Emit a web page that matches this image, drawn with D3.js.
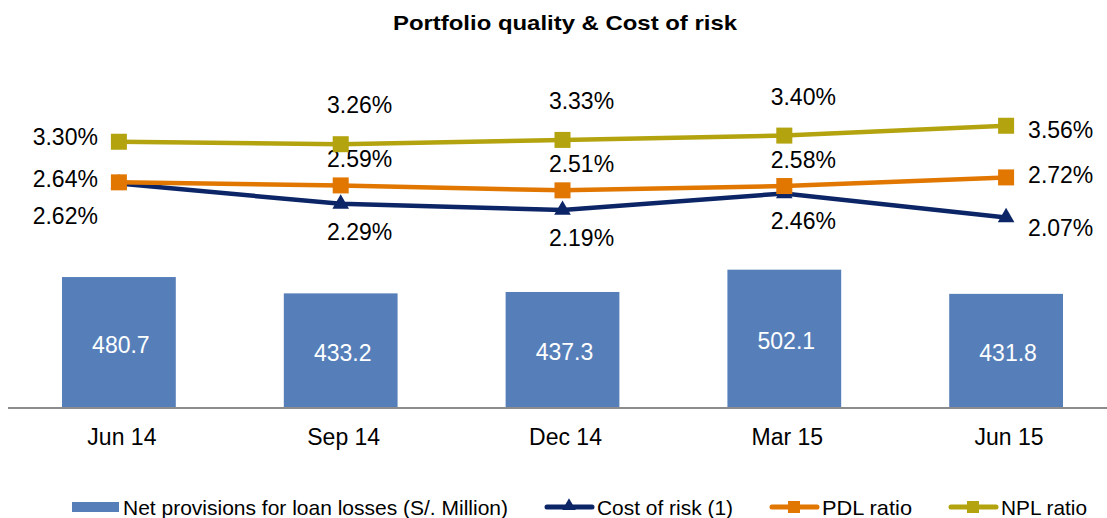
<!DOCTYPE html>
<html>
<head>
<meta charset="utf-8">
<script src="https://cdn.jsdelivr.net/npm/d3@7"></script>
<style>
  html, body { margin: 0; padding: 0; background: #fff; }
  svg { display: block; font-family: "Liberation Sans", Arial, sans-serif; }
</style>
</head>
<body>
<div id="chart"></div>
<script>
const categories = ["Jun 14", "Sep 14", "Dec 14", "Mar 15", "Jun 15"];
const provisions = [480.7, 433.2, 437.3, 502.1, 431.8];
const costOfRisk = [2.62, 2.29, 2.19, 2.46, 2.07];
const pdlRatio = [2.64, 2.59, 2.51, 2.58, 2.72];
const nplRatio = [3.30, 3.26, 3.33, 3.40, 3.56];

const width = 1107;
const height = 518;
const baseY = 408;
const labelSize = 23;

const svg = d3.select("#chart")
  .append("svg")
  .attr("width", width)
  .attr("height", height);

svg.append("text")
  .attr("x", 565)
  .attr("y", 30)
  .attr("text-anchor", "middle")
  .attr("font-size", 21)
  .attr("font-weight", "bold")
  .attr("textLength", 344)
  .attr("lengthAdjust", "spacingAndGlyphs")
  .text("Portfolio quality & Cost of risk");

const x = d3.scaleBand()
  .domain(categories)
  .range([8, 1117])
  .paddingInner(0.487)
  .paddingOuter(0.2435);
const cx = (c) => x(c) + x.bandwidth() / 2;

// secondary axis for the bars does not start at zero
const yBar = d3.scaleLinear().domain([100, 600]).range([baseY, baseY - 500 * 0.344]);
const yLine = d3.scaleLinear().domain([0, 4.5]).range([344.7, 344.7 - 4.5 * 61.5]);

const barData = categories.map((c, i) => ({ c, v: provisions[i] }));

svg.selectAll("rect.bar")
  .data(barData)
  .enter()
  .append("rect")
  .attr("class", "bar")
  .attr("x", (d) => x(d.c))
  .attr("y", (d) => yBar(d.v))
  .attr("width", x.bandwidth())
  .attr("height", (d) => baseY - yBar(d.v))
  .attr("fill", "#567FBA");

svg.selectAll("text.barLabel")
  .data(barData)
  .enter()
  .append("text")
  .attr("class", "barLabel")
  .attr("x", (d) => cx(d.c) + 2)
  .attr("y", (d) => (yBar(d.v) + baseY) / 2 + 2)
  .attr("text-anchor", "middle")
  .attr("dominant-baseline", "central")
  .attr("font-size", labelSize)
  .attr("fill", "#fff")
  .text((d) => d.v.toFixed(1));

// category axis
const xAxis = svg.append("g")
  .attr("transform", `translate(0, ${baseY})`)
  .call(d3.axisBottom(x).tickSize(0).tickPadding(0));
xAxis.select(".domain").remove();
xAxis.append("line")
  .attr("x1", 8).attr("x2", width)
  .attr("stroke", "#8C8C8C")
  .attr("stroke-width", 2);
xAxis.selectAll(".tick text")
  .attr("font-size", labelSize)
  .attr("font-family", "Liberation Sans, Arial, sans-serif")
  .attr("fill", "#000")
  .attr("dx", 3)
  .attr("dy", 0)
  .attr("y", 36.5);

const series = [
  { name: "Cost of risk (1)", values: costOfRisk, color: "#0B2566", marker: "triangle", mid: 28 },
  { name: "PDL ratio", values: pdlRatio, color: "#E17700", marker: "square", mid: -26 },
  { name: "NPL ratio", values: nplRatio, color: "#B3A30F", marker: "square", mid: -39 },
];

const line = d3.line()
  .x((d) => cx(d.c))
  .y((d) => yLine(d.v));

const endOffsets = {
  "Cost of risk (1)": [32, 11],
  "PDL ratio": [-3, -2],
  "NPL ratio": [-5, 4],
};

series.forEach((s) => {
  const pts = categories.map((c, i) => ({ c, v: s.values[i] }));
  const g = svg.append("g");

  g.append("path")
    .datum(pts)
    .attr("fill", "none")
    .attr("stroke", s.color)
    .attr("stroke-width", 4.5)
    .attr("d", line);

  if (s.marker === "square") {
    g.selectAll("rect")
      .data(pts)
      .enter()
      .append("rect")
      .attr("x", (d) => cx(d.c) - 8)
      .attr("y", (d) => yLine(d.v) - 8)
      .attr("width", 16)
      .attr("height", 16)
      .attr("fill", s.color);
  } else {
    g.selectAll("path.marker")
      .data(pts)
      .enter()
      .append("path")
      .attr("class", "marker")
      .attr("transform", (d) => `translate(${cx(d.c)}, ${yLine(d.v)})`)
      .attr("d", d3.symbol().type(d3.symbolTriangle).size(120))
      .attr("fill", s.color);
  }

  const last = pts.length - 1;
  g.selectAll("text")
    .data(pts)
    .enter()
    .append("text")
    .attr("font-size", labelSize)
    .attr("fill", "#000")
    .attr("dominant-baseline", "central")
    .attr("text-anchor", (d, i) => (i === 0 ? "end" : i === last ? "start" : "middle"))
    .attr("x", (d, i) => cx(d.c) + (i === 0 ? -21 : i === last ? 22 : 19))
    .attr("y", (d, i) => yLine(d.v) + (i === 0 ? endOffsets[s.name][0] : i === last ? endOffsets[s.name][1] : s.mid))
    .text((d) => d.v.toFixed(2) + "%");
});

// legend
const legendItems = [
  { name: "Net provisions for loan losses (S/. Million)", type: "bar", color: "#567FBA", w: 385 },
  { name: "Cost of risk (1)", type: "triangle", color: "#0B2566", w: 136 },
  { name: "PDL ratio", type: "square", color: "#E17700", w: 90 },
  { name: "NPL ratio", type: "square", color: "#B3A30F", w: 86 },
];

const legendY = 507;
let lx = 72;
legendItems.forEach((item) => {
  const g = svg.append("g").attr("transform", `translate(${lx}, ${legendY})`);
  if (item.type === "bar") {
    g.append("rect")
      .attr("x", 0).attr("y", -5)
      .attr("width", 47).attr("height", 10)
      .attr("fill", item.color);
  } else {
    g.append("line")
      .attr("x1", 1).attr("x2", 46)
      .attr("stroke", item.color)
      .attr("stroke-width", 5)
      .attr("stroke-linecap", "round");
    if (item.type === "square") {
      g.append("rect")
        .attr("x", 17).attr("y", -6)
        .attr("width", 12).attr("height", 12)
        .attr("fill", item.color);
    } else {
      g.append("path")
        .attr("transform", "translate(23, -1)")
        .attr("d", d3.symbol().type(d3.symbolTriangle).size(80))
        .attr("fill", item.color);
    }
  }
  g.append("text")
    .attr("x", 51)
    .attr("dominant-baseline", "central")
    .attr("font-size", 21)
    .attr("textLength", item.w)
    .attr("lengthAdjust", "spacingAndGlyphs")
    .attr("fill", "#000")
    .text(item.name);
  lx += 51 + item.w + 38;
});
</script>
</body>
</html>
